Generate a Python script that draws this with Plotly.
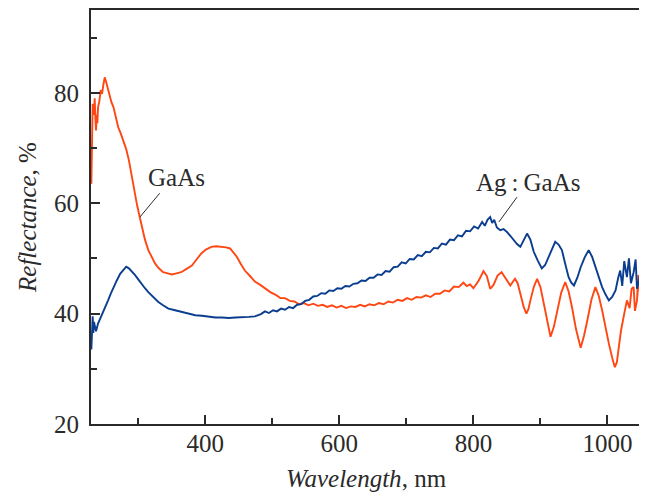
import plotly.graph_objects as go

# GaAs (orange) reflectance
gaas_wl = [230, 231, 232, 234, 235, 236, 237, 238, 239, 240, 242, 244, 246, 248, 250, 252, 254, 256, 258, 260,
           263, 266, 270, 274, 278, 282, 286, 290, 294, 298, 302, 306, 310, 315, 320, 325, 330, 337, 344, 350,
           357, 364, 372, 380, 387, 394, 401, 409, 416, 424, 431, 437, 442, 447, 453, 459, 466, 474,
           482, 490, 497, 505, 512, 519, 526, 533, 540, 547, 554, 561, 568, 575, 582, 589, 596, 603, 610, 617,
           624, 631, 638, 645, 652, 659, 666, 673, 680, 687, 694, 701, 708, 715, 722, 729, 736, 743, 750, 757,
           764, 771, 778, 785, 790, 795, 800, 808, 815, 820, 825, 830, 836, 842, 848, 855, 862, 866, 870,
           875, 879, 882, 885, 890, 895, 900, 905, 910, 915, 920, 925, 931, 937, 942, 947, 953, 960, 965, 970,
           976, 982, 987, 992, 997, 1002, 1007, 1011, 1014, 1017, 1020, 1025, 1029, 1033, 1036, 1039, 1041, 1044,
           1046, 1048, 1050]
gaas_r = [63.5, 72.0, 78.0, 76.0, 79.0, 75.5, 73.2, 76.0, 74.5, 77.4, 78.5, 80.5, 79.8, 81.5, 82.8, 82.0, 81.0, 80.3, 79.2, 78.3,
          77.4, 75.8, 73.8, 72.6, 71.3, 69.8, 67.8, 65.0, 62.6, 59.8, 57.6, 55.3, 53.4, 51.5, 50.2, 49.1, 48.3, 47.5, 47.3, 47.1,
          47.3, 47.5, 48.1, 48.7, 49.8, 50.9, 51.6, 52.1, 52.2, 52.1, 52.0, 51.8, 51.1, 50.3, 49.0, 47.8, 46.9, 45.8,
          45.2, 44.5, 43.9, 43.4, 42.8, 42.8, 42.3, 42.2, 41.7, 41.9, 41.5, 41.8, 41.4, 41.6, 41.2, 41.5, 41.1, 41.4, 41.0, 41.3,
          41.2, 41.6, 41.3, 41.7, 41.5, 41.9, 41.7, 42.2, 42.0, 42.5, 42.3, 42.8, 42.5, 43.0, 42.9, 43.3, 43.0, 43.6, 43.6, 44.2,
          44.0, 44.9, 44.8, 45.6, 45.0, 45.3, 44.6, 46.0, 47.7, 46.8, 44.5, 45.2, 46.9, 47.5, 46.3, 45.1, 46.3, 45.5, 43.6,
          41.2, 40.0, 40.8, 42.4, 44.8, 46.3, 44.8, 41.8, 38.5, 35.8, 37.6, 40.6, 43.8, 45.7, 44.0, 41.2, 37.2, 33.8, 36.0, 38.8,
          42.5, 44.8, 43.2, 40.6, 37.5, 34.6, 32.0, 30.3, 31.2, 34.5, 36.8, 40.0, 42.4, 41.0, 44.5, 44.8, 40.5, 42.4,
          47.0, 44.0, 38.0]

# Ag:GaAs (blue) reflectance
ag_wl = [230, 231, 232, 233, 234, 235, 237, 240, 243, 247, 251, 255, 259, 263, 268, 273, 278, 282, 286, 290,
         295, 300, 305, 310, 315, 322, 330, 337, 345, 355, 365, 375, 385, 395, 405, 415, 425, 435, 445, 455,
         465, 474, 483, 489, 495, 501, 507, 513, 519, 525, 531, 537, 543, 549, 555, 561, 567, 573, 579, 585,
         591, 597, 603, 609, 615, 621, 627, 633, 639, 645, 651, 657, 663, 669, 675, 681, 687, 693, 699, 705,
         711, 717, 723, 729, 735, 741, 747, 753, 759, 765, 771, 777, 783, 789, 795, 801, 807, 813, 817, 821,
         825, 828, 831, 835, 840, 845, 850, 855, 860, 865,
         870, 875, 880, 885, 890, 896, 902, 907, 912, 917, 922, 927, 932, 937, 942, 946, 950, 955, 960, 966,
         972, 977, 982, 987, 992, 997, 1002, 1007, 1012, 1016, 1019, 1022, 1025, 1029, 1032, 1035, 1039, 1042,
         1044, 1047, 1050]
ag_r = [33.5, 35.8, 39.5, 36.5, 38.5, 37.9, 36.8, 38.2, 39.0, 40.0, 41.2, 42.4, 43.6, 44.8, 46.0, 47.2, 48.0, 48.5, 48.2, 47.7,
        47.0, 46.2, 45.3, 44.6, 43.9, 43.0, 42.1, 41.5, 40.9, 40.6, 40.3, 40.0, 39.7, 39.6, 39.4, 39.3, 39.3, 39.2, 39.3, 39.3,
        39.4, 39.5, 39.9, 40.4, 40.1, 40.6, 40.4, 40.9, 40.7, 41.2, 41.0, 41.6, 41.7, 42.3, 42.5, 43.1, 43.2, 43.7, 43.6, 44.2,
        44.1, 44.6, 44.5, 45.0, 44.9, 45.4, 45.5, 46.0, 45.9, 46.5, 46.5, 47.1, 47.0, 47.7, 47.6, 48.4, 48.5, 49.3, 49.1, 49.9,
        49.8, 50.6, 50.4, 51.2, 51.1, 51.9, 51.8, 52.7, 52.5, 53.4, 53.3, 54.2, 54.0, 55.0, 54.9, 55.8, 55.4, 56.6, 55.9, 57.0,
        57.5, 56.4, 57.0, 55.6, 55.1, 55.3, 54.8, 54.1, 53.3, 52.6,
        52.1, 53.2, 54.5, 53.4, 51.2, 49.6, 48.2, 48.8, 50.3, 51.8, 53.0, 52.5, 51.5, 49.0, 46.6, 45.6, 45.1, 46.5, 48.4, 50.2,
        51.5, 50.3, 48.4, 46.5, 44.8, 43.5, 42.4, 43.0, 44.2, 46.5, 47.8, 45.0, 49.5, 46.6, 50.0, 45.5, 47.5, 49.8,
        44.5, 46.0, 48.0]

x_range = [229.5, 1050]
y_range = [20, 95]
x_ticks = [400, 600, 800, 1000]
x_minor = [300, 500, 700, 900]
y_ticks = [20, 40, 60, 80]
y_minor = [30, 50, 70, 90]

ORANGE = "#ff4713"
BLUE = "#0a3d8f"
INK = "#2a2a2a"
FONT = "Liberation Serif"

fig = go.Figure()
fig.add_trace(go.Scatter(x=gaas_wl, y=gaas_r, mode="lines", line=dict(color=ORANGE, width=1.9), name="GaAs"))
fig.add_trace(go.Scatter(x=ag_wl, y=ag_r, mode="lines", line=dict(color=BLUE, width=1.9), name="Ag:GaAs"))

# labels with leader lines
fig.add_annotation(x=357, y=64.7, text="GaAs", showarrow=False, font=dict(family=FONT, size=25, color=INK))
fig.add_shape(type="line", x0=332, y0=61.8, x1=302.5, y1=57.5, xref="x", yref="y", line=dict(color=INK, width=1))
fig.add_annotation(x=881, y=63.7, text="Ag\u2009:\u2009GaAs", showarrow=False, font=dict(family=FONT, size=25, color=INK))
fig.add_shape(type="line", x0=865, y0=61.1, x1=838, y1=56.6, xref="x", yref="y", line=dict(color=INK, width=1))

axis_common = dict(
    showline=True, linecolor=INK, linewidth=2, mirror=True,
    ticks="inside", ticklen=9, tickwidth=1.5, tickcolor=INK,
    showgrid=False, zeroline=False,
    tickfont=dict(family=FONT, size=25, color=INK),
)
fig.update_xaxes(range=x_range, tickmode="array", tickvals=x_ticks, ticklabelstandoff=-4,
                 minor=dict(tickmode="array", tickvals=x_minor, ticks="inside", ticklen=6, tickwidth=1.5, tickcolor=INK),
                 title=dict(text="<i>Wavelength</i>, nm", font=dict(family=FONT, size=25, color=INK), standoff=17),
                 **axis_common)
fig.update_yaxes(range=y_range, tickmode="array", tickvals=y_ticks, ticklabelstandoff=5,
                 minor=dict(tickmode="array", tickvals=y_minor, ticks="inside", ticklen=6, tickwidth=1.5, tickcolor=INK),
                 title=dict(text="<i>Reflectance</i>, %", font=dict(family=FONT, size=25, color=INK), standoff=10),
                 **axis_common)

# the page places the figure 8 px in from the top-left corner; the sizes below account for that
fig.update_layout(
    width=639, height=484,
    margin=dict(l=83, r=6, t=2, b=68, autoexpand=False),
    plot_bgcolor="white", paper_bgcolor="white",
    showlegend=False,
)

fig.write_html("out.html")
